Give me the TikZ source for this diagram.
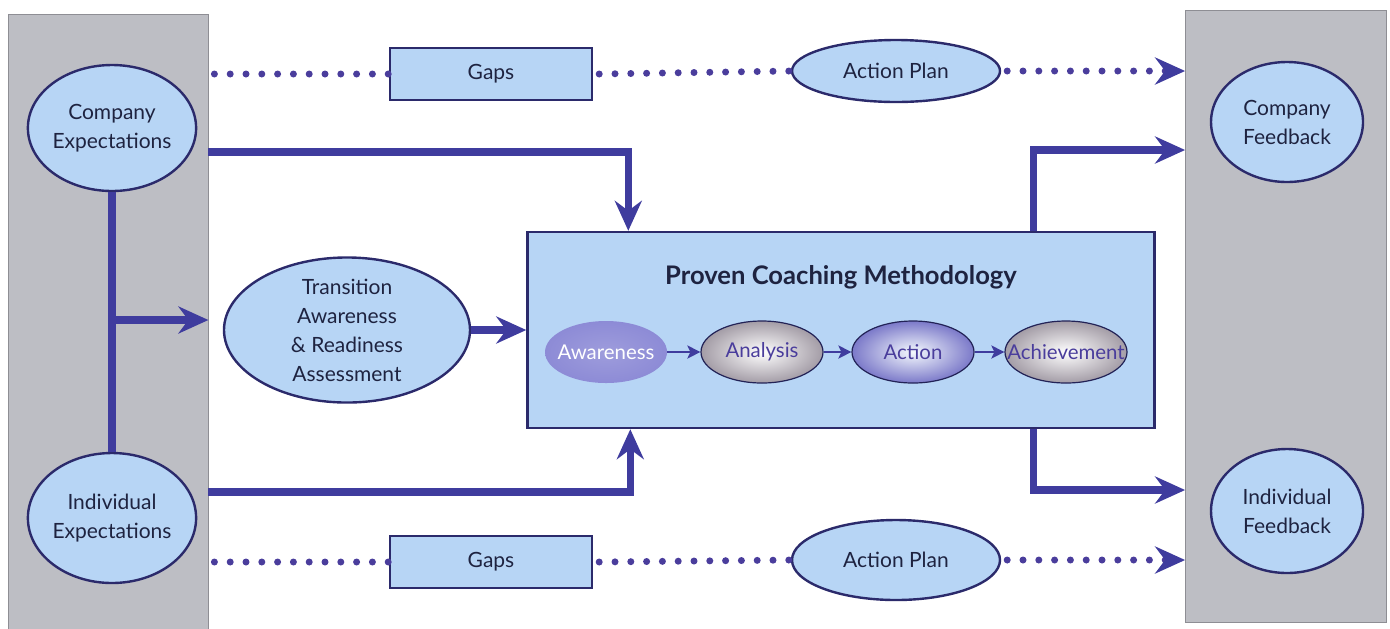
\documentclass[tikz,border=0pt]{standalone}
\usepackage{fontspec}
\setmainfont{Lato}
\usetikzlibrary{shapes.geometric,arrows.meta}
\definecolor{panel}{HTML}{BDBEC4}
\definecolor{panelline}{HTML}{8E8E94}
\definecolor{lblue}{HTML}{B7D5F5}
\definecolor{navy}{HTML}{2B2A6B}
\definecolor{arrowc}{HTML}{3F3C9E}
\definecolor{dotc}{HTML}{4A3D9C}
\definecolor{textc}{HTML}{1E2340}
\definecolor{awfill}{HTML}{8D8BD6}
\definecolor{grayout}{HTML}{A39CA6}
\definecolor{blueout}{HTML}{7B79C9}
\newcommand{\stagetext}[1]{\makebox[0pt]{#1}}
\tikzset{
  panelbox/.style={rectangle, draw=panelline, line width=0.4pt, fill=panel, inner sep=0},
  blob/.style={ellipse, draw=navy, line width=1.2pt, fill=lblue, align=center, text=textc, inner sep=0,
    font=\fontsize{10.5}{14.5}\selectfont},
  gapbox/.style={rectangle, draw=navy, line width=1.2pt, fill=lblue, text=textc, inner sep=0,
    minimum width=101pt, minimum height=26pt, font=\fontsize{10.5}{14.5}\selectfont},
  mainbox/.style={rectangle, draw=navy, line width=1.2pt, fill=lblue, inner sep=0},
  stage/.style={ellipse, inner sep=0, minimum width=61pt, minimum height=31pt, font=\fontsize{10.2}{12}\selectfont},
  graystage/.style={stage, draw=navy!80!black, line width=0.6pt, shading=radial, inner color=white, outer color=grayout, text=dotc},
  bluestage/.style={stage, draw=navy!80!black, line width=0.6pt, shading=radial, inner color=white!85!lblue, outer color=blueout, text=dotc},
  flatstage/.style={stage, shading=radial, inner color=awfill!85!white, outer color=awfill, text=white},
  thickline/.style={draw=arrowc, line width=3.6pt},
  bigarrow/.style={thickline, -{Stealth[length=15pt, width=13.5pt, inset=5pt]}},
  dotline/.style={draw=dotc, line width=3.5pt, line cap=round, dash pattern=on 0pt off 7.9pt,
    -{Stealth[length=15pt, width=13.5pt, inset=5pt, arrowc]}},
  dotplain/.style={draw=dotc, line width=3.5pt, line cap=round, dash pattern=on 0pt off 7.9pt},
  smallarrow/.style={draw=arrowc, line width=1.4pt, -{Stealth[length=6.5pt, width=6.5pt, inset=1.5pt]}}
}
\begin{document}
\begin{tikzpicture}[x=0.5pt, y=-0.5pt]
\useasboundingbox (0,0) rectangle (1390,628);
% side panels
\node[panelbox, minimum width=100pt, minimum height=308pt] (lp) at (108,322) {};
\node[panelbox, minimum width=100.5pt, minimum height=306pt] (rp) at (1286,316) {};
% expectation and feedback ellipses
\node[blob, minimum width=80pt, minimum height=63pt] (ce) at (112,128) {Company\\Expectations};
\node[blob, minimum width=80pt, minimum height=65pt] (ie) at (112,518) {Individual\\Expectations};
\node[blob, minimum width=76pt, minimum height=60pt] (cf) at (1287,122) {Company\\Feedback};
\node[blob, minimum width=76pt, minimum height=62pt] (if) at (1287,511) {Individual\\Feedback};
% transition
\node[blob, minimum width=123pt, minimum height=71pt] (tr) at (347,330) {Transition\\Awareness\\\& Readiness\\Assessment};
% gaps and action plans
\node[gapbox] (g1) at (491,74) {Gaps};
\node[gapbox] (g2) at (491,562) {Gaps};
\node[blob, minimum width=104pt, minimum height=31pt] (ap1) at (896,71) {Action Plan};
\node[blob, minimum width=104pt, minimum height=40pt] (ap2) at (896,560) {Action Plan};
% main box
\node[mainbox, minimum width=313.5pt, minimum height=98pt] (pcm) at (841,330) {};
\node[text=textc, font=\bfseries\fontsize{12.8}{14}\selectfont] (title) at (841,277) {Proven Coaching Methodology};
\node[flatstage] (aw) at (606,352) {\stagetext{Awareness}};
\node[graystage] (an) at (762,352) {\stagetext{Analysis}};
\node[bluestage] (ac) at (913,352) {\stagetext{Action}};
\node[graystage] (achv) at (1066,352) {\stagetext{Achievement}};
\draw[smallarrow] (aw) -- (an);
\draw[smallarrow] (an) -- (ac);
\draw[smallarrow] (ac) -- (achv);
% left connectors
\coordinate (j1) at (ce.south |- 0,320);
\draw[thickline] (ce.south) -- (ie.north);
\draw[bigarrow] (j1) -- (lp.east |- j1);
\draw[bigarrow] (lp.east |- 0,152) -| ([xshift=51pt]pcm.north west);
\draw[bigarrow] (lp.east |- 0,492) -| ([xshift=52pt]pcm.south west);
\draw[bigarrow] (tr.east) -- (pcm.west);
% right connectors
\draw[bigarrow] ([xshift=-61pt]pcm.north east) |- (rp.west |- 0,150);
\draw[bigarrow] ([xshift=-61pt]pcm.south east) |- (rp.west |- 0,490);
% dotted lines
\draw[dotplain] ([xshift=3pt]lp.east |- g1) -- (g1.west);
\draw[dotplain] ([xshift=3pt]g1.east) -- (ap1.west);
\draw[dotline] ([xshift=3pt]ap1.east) -- (rp.west |- ap1);
\draw[dotplain] ([xshift=3pt]lp.east |- g2) -- (g2.west);
\draw[dotplain] ([xshift=3pt]g2.east) -- (ap2.west);
\draw[dotline] ([xshift=3pt]ap2.east) -- (rp.west |- ap2);
\end{tikzpicture}
\end{document}
